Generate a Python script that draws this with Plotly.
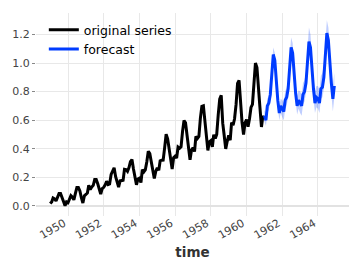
import plotly.graph_objects as go
import pandas as pd

# Original series (AirPassengers, min-max scaled), monthly Jan 1949 - Dec 1960
series_values = [
    0.015, 0.027, 0.054, 0.048, 0.033, 0.060, 0.085, 0.085, 0.062, 0.029, 0.000, 0.027,
    0.021, 0.042, 0.071, 0.060, 0.041, 0.087, 0.127, 0.127, 0.104, 0.056, 0.019, 0.069,
    0.079, 0.089, 0.143, 0.114, 0.131, 0.143, 0.183, 0.183, 0.154, 0.112, 0.081, 0.120,
    0.129, 0.147, 0.172, 0.149, 0.153, 0.220, 0.243, 0.266, 0.203, 0.168, 0.131, 0.174,
    0.178, 0.178, 0.255, 0.253, 0.241, 0.268, 0.309, 0.324, 0.257, 0.207, 0.147, 0.187,
    0.193, 0.162, 0.253, 0.237, 0.251, 0.309, 0.382, 0.365, 0.299, 0.241, 0.191, 0.241,
    0.266, 0.249, 0.315, 0.319, 0.320, 0.407, 0.502, 0.469, 0.402, 0.328, 0.257, 0.336,
    0.347, 0.334, 0.411, 0.403, 0.413, 0.521, 0.597, 0.581, 0.485, 0.390, 0.322, 0.390,
    0.407, 0.380, 0.486, 0.471, 0.485, 0.614, 0.697, 0.701, 0.579, 0.469, 0.388, 0.448,
    0.456, 0.413, 0.498, 0.471, 0.500, 0.639, 0.747, 0.774, 0.579, 0.492, 0.398, 0.450,
    0.494, 0.459, 0.583, 0.564, 0.610, 0.710, 0.857, 0.878, 0.693, 0.585, 0.498, 0.581,
    0.604, 0.554, 0.608, 0.689, 0.710, 0.832, 1.000, 0.969, 0.780, 0.689, 0.552, 0.633,
]

# Forecast, monthly Jan 1961 - Dec 1964 (median and quantile band)
forecast_values = [
    0.63, 0.60, 0.70, 0.72, 0.78, 0.90, 1.06, 1.02, 0.84, 0.74, 0.65, 0.70,
    0.68, 0.66, 0.74, 0.76, 0.82, 0.95, 1.11, 1.07, 0.89, 0.79, 0.70, 0.74,
    0.72, 0.70, 0.78, 0.80, 0.86, 0.99, 1.15, 1.11, 0.93, 0.82, 0.72, 0.76,
    0.75, 0.72, 0.82, 0.83, 0.90, 1.04, 1.21, 1.16, 0.97, 0.86, 0.75, 0.84,
]
forecast_low = [
    0.59, 0.56, 0.65, 0.67, 0.73, 0.85, 1.01, 0.97, 0.79, 0.69, 0.60, 0.65,
    0.62, 0.60, 0.68, 0.70, 0.76, 0.89, 1.05, 1.01, 0.83, 0.73, 0.64, 0.68,
    0.65, 0.63, 0.71, 0.73, 0.79, 0.92, 1.08, 1.04, 0.86, 0.75, 0.65, 0.69,
    0.68, 0.65, 0.75, 0.76, 0.82, 0.96, 1.13, 1.08, 0.89, 0.78, 0.66, 0.76,
]
forecast_high = [
    0.67, 0.65, 0.75, 0.77, 0.83, 0.95, 1.11, 1.07, 0.89, 0.79, 0.70, 0.75,
    0.74, 0.72, 0.80, 0.83, 0.89, 1.02, 1.18, 1.14, 0.96, 0.86, 0.77, 0.81,
    0.80, 0.78, 0.86, 0.88, 0.94, 1.08, 1.25, 1.20, 1.02, 0.90, 0.80, 0.84,
    0.84, 0.81, 0.91, 0.93, 0.99, 1.14, 1.30, 1.25, 1.06, 0.95, 0.84, 0.93,
]

series_dates = pd.date_range("1949-01-01", periods=len(series_values), freq="MS")
forecast_dates = pd.date_range("1961-01-01", periods=len(forecast_values), freq="MS")

BLUE = "rgb(0,60,255)"
FONT = "DejaVu Sans"

fig = go.Figure()
fig.add_trace(go.Scatter(x=series_dates, y=series_values, mode="lines",
                         line=dict(color="black", width=3), name="original series"))
fig.add_trace(go.Scatter(x=forecast_dates, y=forecast_high, mode="lines",
                         line=dict(width=0), showlegend=False, hoverinfo="skip"))
fig.add_trace(go.Scatter(x=forecast_dates, y=forecast_low, mode="lines",
                         line=dict(width=0), fill="tonexty",
                         fillcolor="rgba(0,60,255,0.25)", showlegend=False, hoverinfo="skip"))
fig.add_trace(go.Scatter(x=forecast_dates, y=forecast_values, mode="lines",
                         line=dict(color=BLUE, width=3), name="forecast"))

fig.update_layout(
    width=362, height=272,
    margin=dict(l=36, r=13, t=13, b=56),
    paper_bgcolor="white", plot_bgcolor="white",
    font=dict(family=FONT, size=11, color="#444"),
    legend=dict(x=0.025, y=0.99, xanchor="left", yanchor="top", traceorder="normal",
                bgcolor="rgba(0,0,0,0)", font=dict(size=12.5, color="black"),
                itemwidth=30, tracegroupgap=0),
    xaxis=dict(
        type="date", automargin=False,
        range=["1948-03-17", "1965-09-27"],
        tick0="1950-01-01", dtick="M24", tickformat="%Y",
        tickangle=-30, showgrid=True, gridcolor="#e8e8e8", gridwidth=1,
        zeroline=False, showline=False, ticks="",
        ticklabelshift=-4, ticklabelstandoff=-2,
        title=dict(text="<b>time</b>", font=dict(size=13.5, color="#333"), standoff=6),
        tickfont=dict(size=11, color="#444"),
    ),
    yaxis=dict(
        automargin=False,
        range=[-0.072, 1.351],
        tickvals=[0.0, 0.2, 0.4, 0.6, 0.8, 1.0, 1.2],
        ticktext=["0.0", "0.2", "0.4", "0.6", "0.8", "1.0", "1.2"],
        showgrid=True, gridcolor="#e8e8e8", gridwidth=1,
        zeroline=True, zerolinecolor="#e2e2e2", zerolinewidth=2,
        showline=False, ticks="outside", ticklen=3, tickcolor="#888",
        tickfont=dict(size=11, color="#444"),
    ),
)

fig.write_html("out.html", config={"displayModeBar": False},
               post_script="document.body.style.margin='0';")
